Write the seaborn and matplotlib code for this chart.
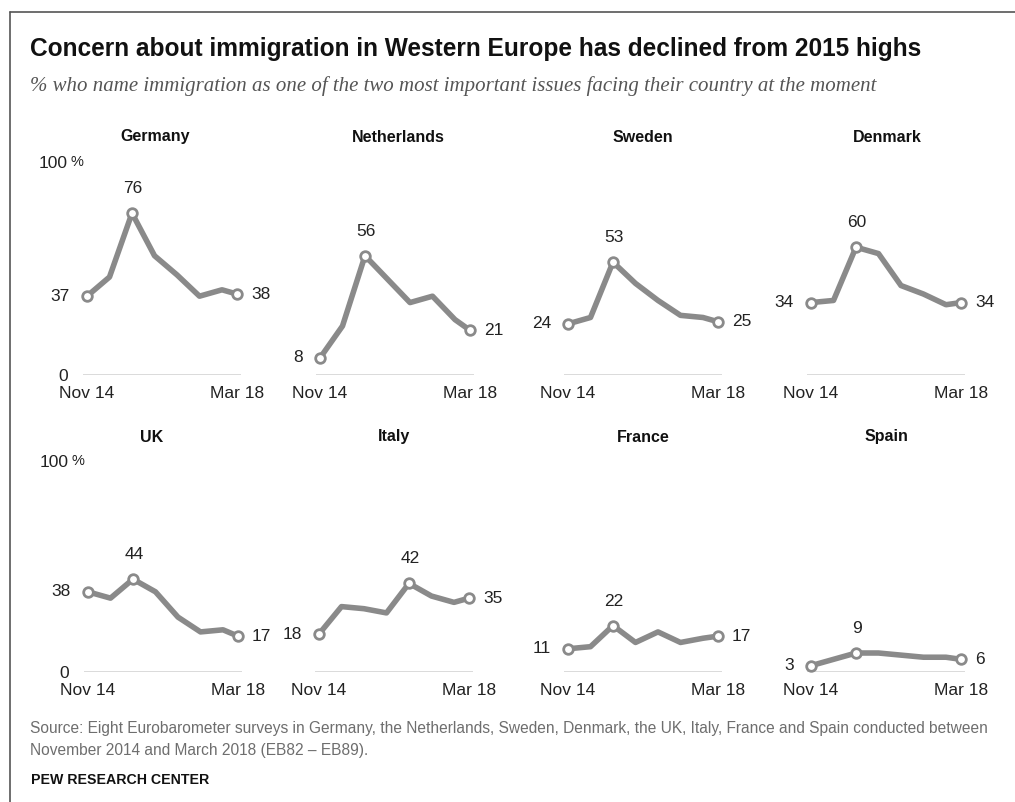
import numpy as np
import pandas as pd
import matplotlib
matplotlib.use("Agg")
import matplotlib.pyplot as plt
from matplotlib.lines import Line2D
from matplotlib import font_manager
import seaborn as sns

# ---------------- data ----------------
surveys = ["Nov 14", "May 15", "Nov 15", "May 16", "Nov 16", "May 17", "Nov 17", "Mar 18"]
months_since_start = [0, 6, 12, 18, 24, 30, 36, 40]
countries = ["Germany", "Netherlands", "Sweden", "Denmark", "UK", "Italy", "France", "Spain"]
germany = [37, 46, 76, 56, 47, 37, 40, 38]
netherlands = [8, 23, 56, 45, 34, 37, 26, 21]
sweden = [24, 27, 53, 43, 35, 28, 27, 25]
denmark = [34, 35, 60, 57, 42, 38, 33, 34]
uk = [38, 35, 44, 38, 26, 19, 20, 17]
italy = [18, 31, 30, 28, 42, 36, 33, 35]
france = [11, 12, 22, 14, 19, 14, 16, 17]
spain = [3, 6, 9, 9, 8, 7, 7, 6]
series = [germany, netherlands, sweden, denmark, uk, italy, france, spain]
x_tick_labels = ["Nov 14", "Mar 18"]
y_tick_labels = ["0", "100"]

title = "Concern about immigration in Western Europe has declined from 2015 highs"
subtitle = "% who name immigration as one of the two most important issues facing their country at the moment"
source1 = ("Source: Eight Eurobarometer surveys in Germany, the Netherlands, Sweden, Denmark, the UK, "
           "Italy, France and Spain conducted between")
source2 = "November 2014 and March 2018 (EB82 \u2013 EB89)."
credit = "PEW RESEARCH CENTER"

rows = []
for c, vals in zip(countries, series):
    for s, m, v in zip(surveys, months_since_start, vals):
        rows.append({"country": c, "survey": s, "month": m, "value": v})
df = pd.DataFrame(rows)

# ---------------- style ----------------
sns.set_theme(style="white")
names = {f.name for f in font_manager.fontManager.ttflist}
SANS = "Liberation Sans" if "Liberation Sans" in names else "DejaVu Sans"
NARROW = "Liberation Sans Narrow" if "Liberation Sans Narrow" in names else SANS
SERIF = "Liberation Serif" if "Liberation Serif" in names else "DejaVu Serif"
plt.rcParams["font.family"] = [SANS, "DejaVu Sans"]

W, H = 1015, 802
fig = plt.figure(figsize=(W / 100, H / 100), dpi=100)
fig.patch.set_facecolor("white")

LINE = "#8a8a8a"
BASE = "#d4d4d4"
TXT = "#222222"
FS = 12.5

def fx(px):
    return px / W

def fy(py):
    return 1 - py / H

# border lines
fig.add_artist(Line2D([fx(10), fx(10)], [0, fy(12)], transform=fig.transFigure, color="#555555", lw=1.2))
fig.add_artist(Line2D([fx(10), 1], [fy(12), fy(12)], transform=fig.transFigure, color="#555555", lw=1.2))

# panel geometry (pixels)
px_per_month = 3.75
data_left = [[87, 320, 568, 811], [88, 319, 568, 811]]
row_zero = [375, 672]
row_top = [162, 461]
title_y = [137, 437]
title_x = [[155, 398, 643, 887], [152, 394, 643, 886]]

for i, (c, vals) in enumerate(zip(countries, series)):
    r, k = divmod(i, 4)
    left = data_left[r][k] - px_per_month
    width = 42 * px_per_month
    ax = fig.add_axes([fx(left), fy(row_zero[r]), fx(width), (row_zero[r] - row_top[r]) / H])
    sub = df[df["country"] == c]
    sns.lineplot(data=sub, x="month", y="value", ax=ax, color=LINE, linewidth=4.0,
                 solid_joinstyle="round", solid_capstyle="round", clip_on=False)
    peak = int(np.argmax(vals))
    idx = [0, peak, len(vals) - 1]
    hl = sub.iloc[idx]
    sns.scatterplot(data=hl, x="month", y="value", ax=ax, s=48, color="white",
                    edgecolor=LINE, linewidth=2.0, zorder=5, clip_on=False)
    ax.set_xlim(-1, 41)
    ax.set_ylim(0, 100)
    ax.axhline(0, color=BASE, lw=1.2, zorder=0)
    for sp in ax.spines.values():
        sp.set_visible(False)
    ax.set_xlabel("")
    ax.set_ylabel("")
    ax.set_xticks([months_since_start[0], months_since_start[-1]])
    ax.set_xticklabels(x_tick_labels)
    ax.tick_params(axis="x", length=0, pad=8, labelsize=FS, labelcolor=TXT)
    if k == 0:
        ax.set_yticks([0, 100])
        ax.set_yticklabels(y_tick_labels)
        ax.tick_params(axis="y", length=0, pad=11, labelsize=FS, labelcolor=TXT)
        ax.annotate("%", xy=(0, 1), xycoords="axes fraction", xytext=(-13, 0),
                    textcoords="offset pixels", ha="left", va="center", fontsize=10.5, color=TXT)
    else:
        ax.set_yticks([])
    ax.patch.set_alpha(0)
    # value labels
    xs = months_since_start
    ax.annotate(str(vals[0]), xy=(xs[0], vals[0]), xytext=(-17, 0), textcoords="offset pixels",
                ha="right", va="center", fontsize=FS, color=TXT)
    ax.annotate(str(vals[-1]), xy=(xs[-1], vals[-1]), xytext=(14, 0), textcoords="offset pixels",
                ha="left", va="center", fontsize=FS, color=TXT)
    ax.annotate(str(vals[peak]), xy=(xs[peak], vals[peak]), xytext=(1, 17), textcoords="offset pixels",
                ha="center", va="bottom", fontsize=FS, color=TXT)
    # panel title
    fig.text(fx(title_x[r][k]), fy(title_y[r]), c, ha="center", va="center",
             fontsize=11.5, fontweight="bold", color="#111111")

# texts
t_title = fig.text(fx(30), fy(49), title, ha="left", va="center", fontsize=20,
                   fontweight="bold", family=[NARROW, "DejaVu Sans"], color="#111111")
t_sub = fig.text(fx(30), fy(86), subtitle, ha="left", va="center", fontsize=13,
                 style="italic", family=[SERIF, "DejaVu Serif"], color="#555555")
t_s1 = fig.text(fx(30), fy(729), source1, ha="left", va="center", fontsize=12,
                family=[NARROW, "DejaVu Sans"], color="#6e6e6e")
t_s2 = fig.text(fx(30), fy(750), source2, ha="left", va="center", fontsize=12,
                family=[NARROW, "DejaVu Sans"], color="#6e6e6e")
t_cr = fig.text(fx(31), fy(780), credit, ha="left", va="center", fontsize=11,
                family=[NARROW, "DejaVu Sans"], fontweight="bold", color="#111111")

fig.canvas.draw()
rend = fig.canvas.get_renderer()

def fit(t, target):
    w = t.get_window_extent(rend).width
    t.set_fontsize(t.get_fontsize() * target / w)

fit(t_title, 892)
fit(t_sub, 842)
fit(t_s1, 960)
t_s2.set_fontsize(t_s1.get_fontsize())
fit(t_cr, 177)

fig.savefig("out.png", dpi=100, facecolor="white")
